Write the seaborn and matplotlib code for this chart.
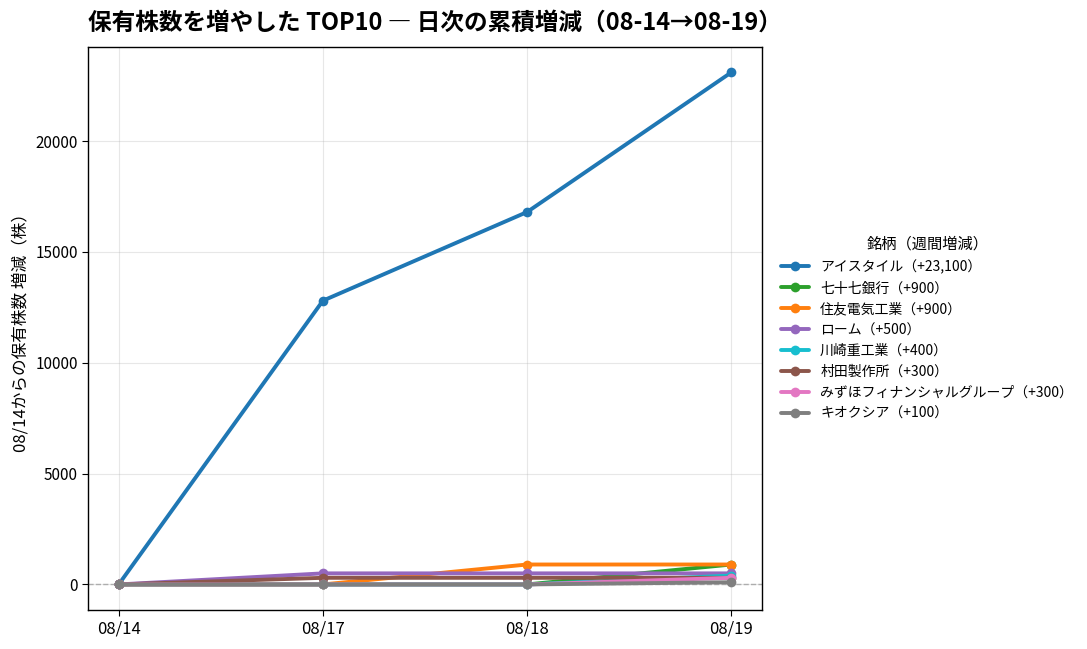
import numpy as np
import pandas as pd
import matplotlib
matplotlib.use('Agg')
import matplotlib.pyplot as plt
import seaborn as sns

# data ------------------------------------------------------------------
dates = ['08/14', '08/17', '08/18', '08/19']
names = ['アイスタイル', '七十七銀行', '住友電気工業', 'ローム', '川崎重工業',
         '村田製作所', 'みずほフィナンシャルグループ', 'キオクシア']
weekly = [23100, 900, 900, 500, 400, 300, 300, 100]

istyle = [0, 12800, 16800, 23100]
shichijushichi = [0, 0, 0, 900]
sumitomo_denko = [0, 0, 900, 900]
rohm = [0, 500, 500, 500]
kawasaki = [0, 0, 0, 400]
murata = [0, 300, 300, 300]
mizuho = [0, 0, 0, 300]
kioxia = [0, 0, 0, 100]

series = [istyle, shichijushichi, sumitomo_denko, rohm, kawasaki, murata, mizuho, kioxia]
colors = ['#1f77b4', '#2ca02c', '#ff7f0e', '#9467bd', '#17becf', '#8c564b', '#e377c2', '#7f7f7f']

labels = [f'{n}（+{w:,}）' for n, w in zip(names, weekly)]
rows = []
for lab, vals in zip(labels, series):
    for d, v in zip(dates, vals):
        rows.append({'date': d, 'delta': v, 'label': lab})
df = pd.DataFrame(rows)
#------------------------------------------------------------------------

sns.set_style('white')
plt.rcParams['font.family'] = ['Noto Sans CJK JP', 'DejaVu Sans']
plt.rcParams['text.color'] = 'black'
plt.rcParams['axes.labelcolor'] = 'black'
plt.rcParams['xtick.color'] = 'black'
plt.rcParams['ytick.color'] = 'black'

fig = plt.figure(figsize=(10.87, 6.49), dpi=100)
ax = fig.add_axes([0.081, 0.060, 0.620, 0.868])

sns.lineplot(data=df, x='date', y='delta', hue='label', hue_order=labels,
             palette=dict(zip(labels, colors)), marker='o', markersize=7,
             markeredgewidth=0, linewidth=2.8, ax=ax, sort=False)

ax.axhline(0, color='#999999', linestyle='--', linewidth=1, alpha=0.8, zorder=0)
ax.grid(True, color='#b0b0b0', alpha=0.3)
for s in ax.spines.values():
    s.set_color('black')
    s.set_linewidth(1)
ax.tick_params(axis='both', length=4, color='black', bottom=True, left=True)
ax.tick_params(axis='x', labelsize=12)
ax.tick_params(axis='y', labelsize=11)
ax.set_xlabel('')
ax.set_ylabel('08/14からの保有株数 増減（株）', fontsize=12)
ax.set_title('保有株数を増やした TOP10 ― 日次の累積増減（08-14→08-19）',
             fontsize=17, fontweight='bold', loc='left', pad=12)

leg = ax.legend(title='銘柄（週間増減）', loc='center left', bbox_to_anchor=(1.01, 0.5),
                frameon=False, fontsize=10, title_fontsize=11)

fig.savefig('out.png', dpi=100)
